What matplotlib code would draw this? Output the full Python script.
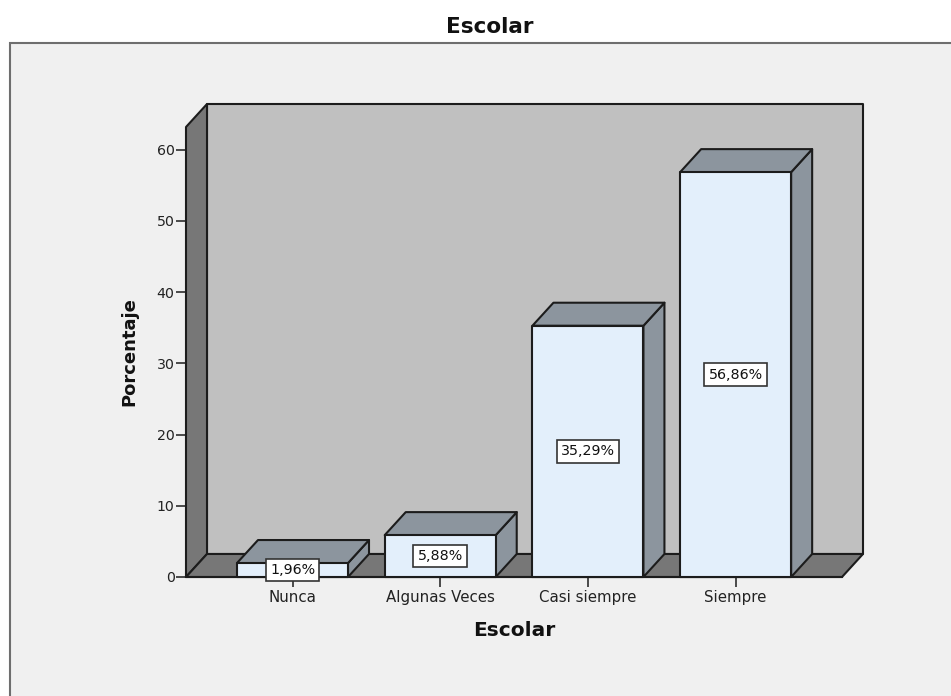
import matplotlib
matplotlib.use('Agg')
import matplotlib.pyplot as plt
from matplotlib.patches import Polygon, Rectangle

plt.rcParams['font.family'] = ['DejaVu Sans']

categories = ['Nunca', 'Algunas Veces', 'Casi siempre', 'Siempre']
values = [1.96, 5.88, 35.29, 56.86]
labels = ['1,96%', '5,88%', '35,29%', '56,86%']
yticks = [0, 10, 20, 30, 40, 50, 60]

W, H = 951, 696
ink = '#1c1c1c'

fig = plt.figure(figsize=(W / 100, H / 100), dpi=100, facecolor='white')

# outer grey panel, only left and top edge are visible
fig.add_artist(Rectangle((10 / W, -0.01), 1.02, (H - 43) / H + 0.01, transform=fig.transFigure,
                         fc='#f0f0f0', ec='#6e6e6e', lw=1.5, zorder=-1))

# axes sit on the front plane of the 3d box
ax = fig.add_axes([186 / W, (H - 577) / H, (842 - 186) / W, (577 - 127) / H])
ax.patch.set_visible(False)
ax.set_xlim(-0.721, 3.72)
ax.set_ylim(0, 63.2)

# depth of the box and of the bars, in data units
dx = 21 / 147.7
dy = 23 / 7.117
half = 55.5 / 147.7
xl, xr = ax.get_xlim()
yb, yt = ax.get_ylim()


def poly(pts, fc, z):
    ax.add_patch(Polygon(pts, closed=True, fc=fc, ec=ink, lw=1.5, zorder=z,
                         clip_on=False, joinstyle='round'))


poly([(xl + dx, yb + dy), (xr + dx, yb + dy), (xr + dx, yt + dy), (xl + dx, yt + dy)], '#c0c0c0', 1)
poly([(xl, yb), (xl + dx, yb + dy), (xl + dx, yt + dy), (xl, yt)], '#777777', 1.1)
poly([(xl, yb), (xr, yb), (xr + dx, yb + dy), (xl + dx, yb + dy)], '#777777', 1.1)

for i, v in enumerate(values):
    a, b = i - half, i + half
    z = 2 + i * 0.1
    poly([(b, 0), (b + dx, dy), (b + dx, v + dy), (b, v)], '#8c959e', z)
    poly([(a, v), (b, v), (b + dx, v + dy), (a + dx, v + dy)], '#8c959e', z)
    poly([(a, 0), (b, 0), (b, v), (a, v)], '#e3effb', z + 0.01)

for i, v in enumerate(values):
    ax.text(i, v / 2, labels[i], ha='center', va='center', fontsize=10.3, color='#111111', zorder=5,
            bbox=dict(boxstyle='square,pad=0.3', fc='white', ec='#333333', lw=1.2))

for s in ['top', 'right', 'left']:
    ax.spines[s].set_visible(False)
ax.spines['bottom'].set_color(ink)
ax.spines['bottom'].set_linewidth(1.5)
ax.spines['bottom'].set_zorder(1.2)

ax.set_axisbelow(True)
ax.set_xticks(range(len(categories)))
ax.set_xticklabels(categories)
ax.set_yticks(yticks)
ax.tick_params(axis='x', length=7.2, width=1.1, color=ink, labelsize=10.8, labelcolor='#222222', pad=2)
ax.tick_params(axis='y', length=7.2, width=1.1, color=ink, labelsize=10.2, labelcolor='#222222', pad=1)

fig.text(490 / W, (H - 27) / H, 'Escolar', ha='center', va='center', fontsize=15.5, fontweight='bold', color='#111111')
fig.text(514 / W, (H - 631) / H, 'Escolar', ha='center', va='center', fontsize=14.5, fontweight='bold', color='#111111')
fig.text(129 / W, (H - 352) / H, 'Porcentaje', rotation=90, ha='center', va='center', fontsize=13,
         fontweight='bold', color='#111111')

fig.savefig('out.png', dpi=100, facecolor='white')
